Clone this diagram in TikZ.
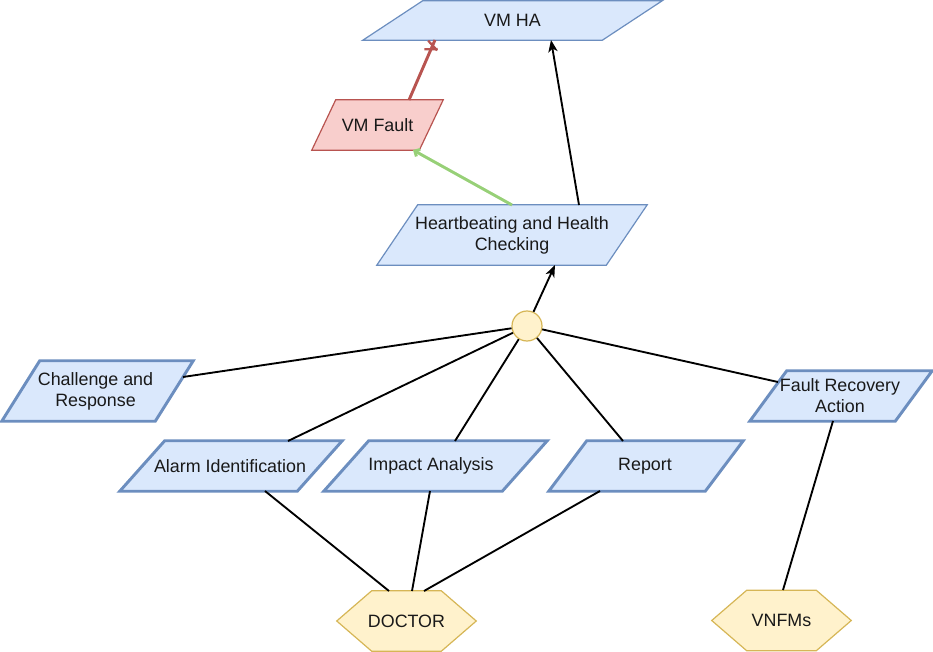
\documentclass[tikz,border=0pt]{standalone}
\usepackage{fontspec}
\setmainfont{Liberation Sans}
\usetikzlibrary{arrows.meta,calc,decorations.markings}
\definecolor{bfill}{HTML}{DAE8FC}
\definecolor{bline}{HTML}{6C8EBF}
\definecolor{rfill}{HTML}{F8CECC}
\definecolor{rline}{HTML}{B85450}
\definecolor{yfill}{HTML}{FFF2CC}
\definecolor{yline}{HTML}{D6B656}
\definecolor{gline}{HTML}{97D077}
% #1 style, #2 name, #3 x, #4 y, #5 width px, #6 height px, #7 skew px, #8 text, #9 text x offset px
\newcommand{\mypara}[9]{%
  \node[rectangle, inner sep=0pt, minimum width=#5*0.75pt, minimum height=#6*0.75pt] (#2) at (#3,#4) {};
  \draw[#1] (#2.south west) -- ($(#2.south east)+(-#7,0)$) -- (#2.north east)
    -- ($(#2.north west)+(#7,0)$) -- cycle;
  \node[lbl] (#2T) at ($(#2.center)+(#9,0)$) {#8};
}
\newcommand{\myhex}[4]{%
  \node[hexbox] (#1) at (#2,#3) {};
  \draw[hexline] (#1.west) -- ($(#1.north west)+(35,0)$) -- ($(#1.north east)+(-35,0)$)
    -- (#1.east) -- ($(#1.south east)+(-35,0)$) -- ($(#1.south west)+(35,0)$) -- cycle;
  \node[lbl] (#1T) at (#1.center) {#4};
}
\begin{document}
\begin{tikzpicture}[x=0.75pt,y=-0.75pt,
  bluethin/.style={draw=bline, fill=bfill, line width=0.9pt, line join=miter},
  bluethick/.style={draw=bline, fill=bfill, line width=2.2pt, line join=miter},
  redthin/.style={draw=rline, fill=rfill, line width=0.9pt},
  lbl/.style={font=\fontsize{13.4}{15.75}\selectfont, align=center, inner sep=0pt, text=black!90},
  hexbox/.style={rectangle, minimum width=104.25pt, minimum height=45pt, inner sep=0pt},
  hexline/.style={draw=yline, fill=yfill, line width=0.9pt},
  conn/.style={line width=1.4pt, draw=black},
  arr/.style={conn, -{Stealth[length=9pt,width=7pt,inset=2.5pt]}},
  greenl/.style={draw=gline, line width=2.2pt, -{Straight Barb[length=3pt,width=6pt]}},
  redl/.style={draw=rline, line width=2.2pt, postaction={decorate},
    decoration={markings,
      mark=at position -4.5pt with {\draw[rline, line width=1.7pt] (-2pt,-4.5pt) -- (2pt,4.5pt);},
      mark=at position -7.5pt with {\draw[rline, line width=1.7pt] (2pt,-4.5pt) -- (-2pt,4.5pt);}}}
]
\useasboundingbox (0,0) rectangle (933,652);

% shapes
\mypara{bluethin}{ha}{512.5}{20.5}{299}{39}{60}{VM HA}{0}
\mypara{redthin}{vmf}{377.5}{125}{131}{50}{24}{VM Fault}{0}
\mypara{bluethin}{hb}{512}{235}{270}{60}{41}{Heartbeating and Health\\Checking}{0}
\mypara{bluethick}{ch}{97.5}{391}{191}{60}{38}{Challenge and\\Response}{-2}
\mypara{bluethick}{al}{231}{466}{222}{50}{45}{Alarm Identification}{-1}
\mypara{bluethick}{im}{435.5}{466}{223}{50}{45}{Impact Analysis}{-4.5}
\mypara{bluethick}{rp}{646}{466}{194}{50}{38}{Report}{-1}
\mypara{bluethick}{fr}{841}{396}{182}{50}{37}{Fault Recovery\\Action}{-1}
\node[circle, draw=yline, fill=yfill, line width=0.9pt, minimum size=22.5pt, inner sep=0pt] (c) at (527,326) {};
\myhex{doc}{406.5}{621}{DOCTOR}
\myhex{vn}{781.5}{620.5}{VNFMs}

% connectors
\draw[arr] ($(hb.center)+(67,-30)$) -- ($(ha.center)+(38.5,19.5)$);
\draw[greenl] ($(hb.center)+(0,-30)$) -- ($(vmf.center)+(35.5,25)$);
\draw[redl] ($(vmf.center)+(31.5,-25)$) -- ($(ha.center)+(-77.5,19.5)$);
\draw[arr] (c) -- ($(hb.center)+(43,30)$);
\draw[conn] (c) -- ($(ch.center)+(85.5,-14)$);
\draw[conn] (c) -- ($(al.center)+(57,-25)$);
\draw[conn] (c) -- ($(im.center)+(19.5,-25)$);
\draw[conn] (c) -- ($(rp.center)+(-23,-25)$);
\draw[conn] (c) -- ($(fr.center)+(-63,-14)$);
\draw[conn] ($(al.center)+(34,25)$) -- ($(doc.center)+(-17.5,-30)$);
\draw[conn] ($(im.center)+(-5.5,25)$) -- ($(doc.center)+(5.5,-30)$);
\draw[conn] ($(rp.center)+(-46,25)$) -- ($(doc.center)+(17.5,-30)$);
\draw[conn] ($(fr.center)+(-8,25)$) -- ($(vn.center)+(1.5,-30.5)$);
\end{tikzpicture}
\end{document}
